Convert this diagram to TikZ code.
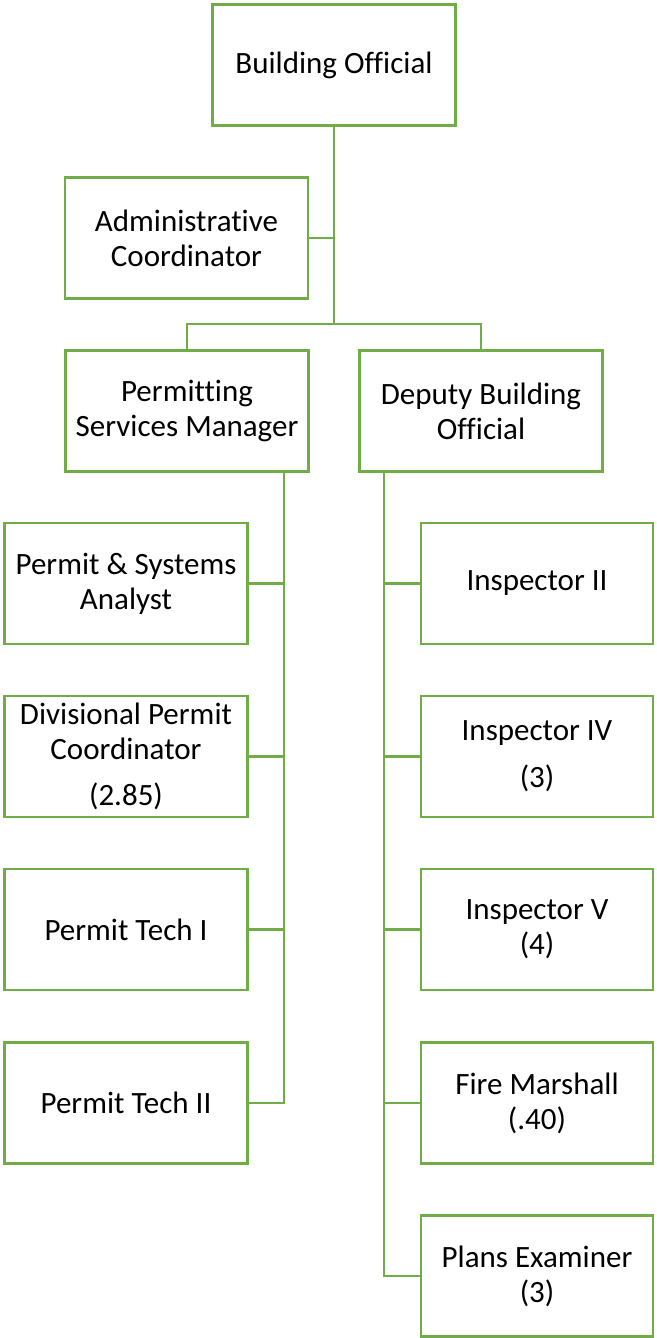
\documentclass[tikz,border=0pt]{standalone}
\usepackage{fontspec}
\setmainfont[Ligatures=NoCommon]{Carlito}
\definecolor{orgGreen}{HTML}{70AD47}
\tikzset{
  unitbox/.style={draw=orgGreen, line width=2.6pt, fill=white, rectangle,
    align=center, inner sep=0pt, text=black,
    font=\fontsize{31}{35}\selectfont},
  topbox/.style={unitbox, minimum width=243pt, minimum height=121pt},
  leftbox/.style={unitbox, minimum width=243pt, minimum height=121pt},
  rightbox/.style={unitbox, minimum width=232pt, minimum height=121pt},
  link/.style={draw=orgGreen, line width=2.6pt}
}
\begin{document}
\begin{tikzpicture}[x=1pt,y=-1pt]
  \useasboundingbox (0,0) rectangle (656,1338);

  % top level
  \node[topbox] (bo)  at (334,65)    {Building Official};
  \node[topbox] (ac)  at (186.5,238) {Administrative\\Coordinator};
  \node[topbox] (psm) at (187,411)   {Permitting\\Services Manager};
  \node[topbox] (dbo) at (481,411)   {Deputy Building\\Official};

  % permitting column
  \node[leftbox] (pa) at (126,583.5) {Permit \& Systems\\Analyst};
  \node[leftbox] (dp) at (126,756.5) {Divisional Permit\\Coordinator\\[11pt](2.85)};
  \node[leftbox] (t1) at (126,929.5) {Permit Tech I};
  \node[leftbox] (t2) at (126,1103)  {Permit Tech II};

  % inspection column
  \node[rightbox] (i2) at (537,583.5) {Inspector II};
  \node[rightbox] (i4) at (537,756.5) {Inspector IV\\[12pt](3)};
  \node[rightbox] (i5) at (537,929.5) {Inspector V\\(4)};
  \node[rightbox] (fm) at (537,1103)  {Fire Marshall\\(.40)};
  \node[rightbox] (pe) at (537,1276)  {Plans Examiner\\(3)};

  % trunk lines
  \coordinate (bus) at (334,324);
  \coordinate (lt) at (284,0);
  \coordinate (rt) at (384,0);

  \draw[link] (bo.south) -- (bus);
  \draw[link] (ac.east) -- (ac.east -| bo.south);
  \draw[link] (psm.north) |- (bus) -| (dbo.north);

  \draw[link] (lt |- psm.south) -- (lt |- t2.east) -- (t2.east);
  \foreach \n in {pa,dp,t1} \draw[link] (\n.east) -- (\n.east -| lt);

  \draw[link] (rt |- dbo.south) -- (rt |- pe.west) -- (pe.west);
  \foreach \n in {i2,i4,i5,fm} \draw[link] (\n.west) -- (\n.west -| rt);
\end{tikzpicture}
\end{document}
